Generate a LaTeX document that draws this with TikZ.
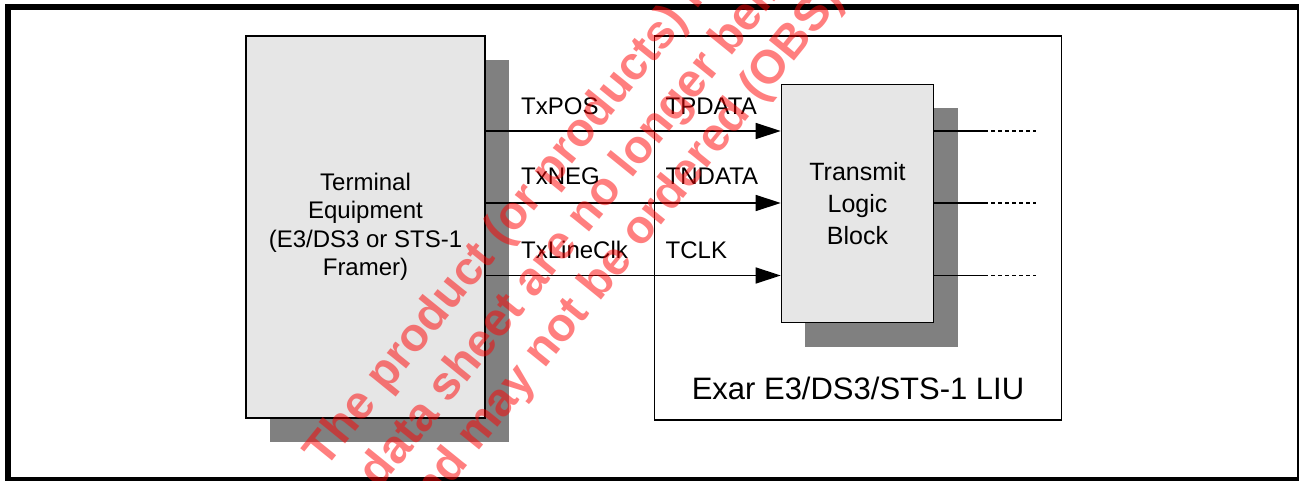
\documentclass[tikz,border=0pt]{standalone}
\usepackage{fontspec}
\setmainfont{Liberation Sans}
\usetikzlibrary{arrows.meta}
\definecolor{boxgray}{RGB}{230,230,230}
\definecolor{shadowgray}{RGB}{128,128,128}
\begin{document}
\begin{tikzpicture}[x=1pt,y=-1pt,
  blockbox/.style={draw=black, line width=1.6pt, fill=boxgray, inner sep=0pt, align=center},
  liubox/.style={draw=black, line width=1.6pt, fill=white, inner sep=0pt},
  shadowfill/.style={fill=shadowgray, draw=none},
  sig/.style={draw=black, line width=1.6pt},
  sigarrow/.style={sig, -{Triangle[length=25pt,width=16pt]}},
  sigdash/.style={sig, dash pattern=on 4pt off 3pt},
  lbl/.style={font=\fontsize{24pt}{28pt}\selectfont, inner sep=0pt, anchor=base west},
  wm/.style={font=\fontsize{47pt}{47pt}\selectfont\bfseries, text=red, text opacity=0.5, inner sep=0pt, anchor=base west, rotate=51}
]
\useasboundingbox (0,0) rectangle (1299,481);

% outer frame
\draw[line width=6pt] (8,7) rectangle (1300,480);

% LIU box
\node[liubox, minimum width=407pt, minimum height=384pt] (liu) at (858,228) {};
\node[font=\fontsize{31pt}{36pt}\selectfont, inner sep=0pt, anchor=base] (liulbl) at (858,399) {Exar E3/DS3/STS-1 LIU};

% terminal equipment
\node[minimum width=239pt, minimum height=382pt, inner sep=0pt] (termghost) at (365.5,227) {};
\fill[shadowfill] ([shift={(24,24)}]termghost.south west) rectangle ([shift={(24,24)}]termghost.north east);
\node[blockbox, minimum width=239pt, minimum height=382pt, font=\fontsize{24pt}{28.5pt}\selectfont] (term) at (365.5,227) {Terminal\\Equipment\\(E3/DS3 or STS-1\\Framer)};

% transmit logic block
\node[minimum width=152pt, minimum height=238pt, inner sep=0pt] (tlbghost) at (857.5,203.5) {};
\fill[shadowfill] ([shift={(24,24)}]tlbghost.south west) rectangle ([shift={(24,24)}]tlbghost.north east);
\node[blockbox, minimum width=152pt, minimum height=238pt, font=\fontsize{25pt}{32pt}\selectfont] (tlb) at (857.5,203.5) {Transmit\\Logic\\Block};

% signal rows
\coordinate (r1) at (0,131);
\coordinate (r2) at (0,203);
\coordinate (r3) at (0,275.5);
\coordinate (o1) at (984,131);
\coordinate (o2) at (984,203);
\coordinate (o3) at (984,275.5);
\coordinate (e1) at (1036,131);
\coordinate (e2) at (1036,203);
\coordinate (e3) at (1036,275.5);

\draw[sigarrow] (term.east |- r1) -- (tlb.west |- r1);
\draw[sigarrow] (term.east |- r2) -- (tlb.west |- r2);
\draw[sigarrow] (term.east |- r3) -- (tlb.west |- r3);

\draw[sig] (tlb.east |- r1) -- (o1);
\draw[sig] (tlb.east |- r2) -- (o2);
\draw[sig] (tlb.east |- r3) -- (o3);
\draw[sigdash] (o1) -- (e1);
\draw[sigdash] (o2) -- (e2);
\draw[sigdash] (o3) -- (e3);

% labels
\node[lbl] (l1) at (521,114.3) {TxPOS};
\node[lbl] (l2) at (521,185) {TxNEG};
\node[lbl] (l3) at (521,258.3) {TxLineClk};
\node[lbl] (m1) at (665.5,114.3) {TPDATA};
\node[lbl] (m2) at (665.5,185) {TNDATA};
\node[lbl] (m3) at (665.5,258.3) {TCLK};

% watermark
\begin{scope}
\clip (0,0) rectangle (1299,481);
\node[wm] (w1) at (325.3,469.2) {The product (or products) in this};
\node[wm] (w2) at (379.8,490) {data sheet are no longer being};
\node[wm] (w3) at (416.5,528.1) {and may not be ordered (OBS)};
\end{scope}
\end{tikzpicture}
\end{document}
